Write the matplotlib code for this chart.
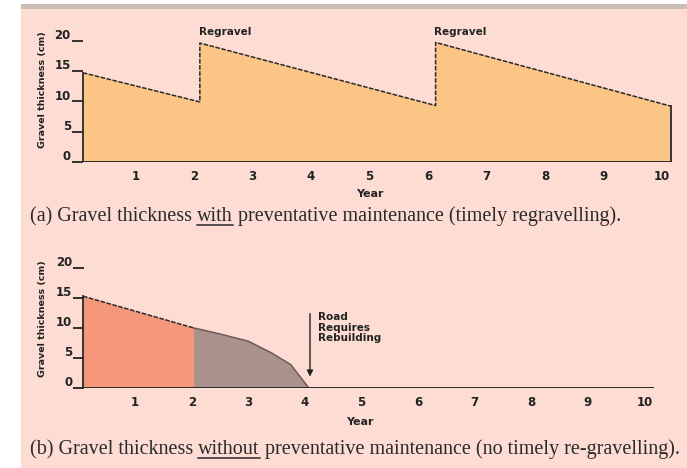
import matplotlib
matplotlib.use("Agg")
import matplotlib.pyplot as plt
from matplotlib.patches import Rectangle
from matplotlib.lines import Line2D

# ---- data ----
years_ticks = [1, 2, 3, 4, 5, 6, 7, 8, 9, 10]
thick_ticks = [0, 5, 10, 15, 20]

# (a) with preventative maintenance
years_a = [0.1, 2.1, 2.1, 6.13, 6.13, 10.15]
thick_a = [14.7, 9.9, 19.6, 9.3, 19.7, 9.2]
regravel_years = [2.1, 6.13]

# (b) without preventative maintenance
years_b_good = [0.08, 2.04]
thick_b_good = [15.3, 10.0]
years_b_bad = [2.04, 2.5, 3.0, 3.4, 3.75, 4.07]
thick_b_bad = [10.0, 9.0, 7.8, 5.9, 3.9, 0.0]
rebuild_year = 4.09

caption_a = ["(a) Gravel thickness ", "with", " preventative maintenance (timely regravelling)."]
caption_b = ["(b) Gravel thickness ", "without", " preventative maintenance (no timely re-gravelling)."]

W, H = 687, 468
fig = plt.figure(figsize=(W / 100, H / 100), dpi=100)
fig.patch.set_facecolor("white")

# background panel
fig.patches.append(Rectangle((21 / W, 0), 1 - 21 / W, (H - 9) / H, transform=fig.transFigure,
                             facecolor="#fddcd3", edgecolor="none", zorder=-10))
fig.patches.append(Rectangle((21 / W, (H - 9) / H), 1 - 21 / W, 5 / H, transform=fig.transFigure,
                             facecolor="#cbbcb6", edgecolor="none", zorder=-10))

tick_font = ["DejaVu Sans"]
serif = ["Liberation Serif", "DejaVu Serif"]
ink = "#222222"


def make_axes(x0, slope, y0, unit, xmax):
    # x0: pixel for year 0, slope: px per year; y0: pixel for 0 cm, unit: px per cm
    left = x0 / W
    width = slope * xmax / W
    bottom = (H - y0) / H
    height = unit * 21 / H
    ax = fig.add_axes([left, bottom, width, height])
    ax.set_xlim(0, xmax)
    ax.set_ylim(0, 21)
    ax.patch.set_alpha(0)
    for s in ax.spines.values():
        s.set_visible(False)
    ax.set_xticks(years_ticks)
    ax.set_xticklabels([str(v) for v in years_ticks], fontfamily=tick_font, fontsize=8.5,
                       fontweight="bold", color=ink)
    ax.tick_params(axis="x", length=0, pad=6)
    ax.set_yticks([])
    # y ticks drawn as short dashes left of the plot start, labels sitting on them
    for v in thick_ticks:
        ax.plot([0.1 - 11 / slope, 0.1], [v, v], color=ink, lw=1.3, clip_on=False,
                solid_capstyle="butt")
        ax.text(0.1 - 12 / slope, v - 0.2, str(v), fontfamily=tick_font, fontsize=8.5,
                fontweight="bold", ha="right", va="bottom", color=ink)
    return ax


# ---- panel (a) ----
axa = make_axes(77, 58.5, 162, 6.07, 10.35)
axa.fill_between(years_a, thick_a, 0, facecolor="#fbc585", edgecolor="none")
axa.plot(years_a, thick_a, color="#2a2a2a", lw=1.1, ls=(0, (3, 1)))
axa.plot([years_a[0], years_a[0]], [0, thick_a[0]], color="#2a2a2a", lw=1.3)
axa.plot([years_a[-1], years_a[-1]], [0, thick_a[-1]], color="#2a2a2a", lw=1.3)
axa.plot([years_a[0], years_a[-1]], [0, 0], color="#2a2a2a", lw=1.4)
for yr in regravel_years:
    axa.text(yr - 0.02, 20.6, "Regravel", fontfamily=tick_font, fontsize=7.5,
             fontweight="bold", ha="left", va="bottom", color=ink)
axa.text(5.0, -5.2, "Year", fontfamily=tick_font, fontsize=8, fontweight="bold",
         ha="center", va="center", color=ink)
fig.text(42 / W, (H - 90) / H, "Gravel thickness (cm)", rotation=90, fontfamily=tick_font,
         fontsize=6.8, fontweight="bold", ha="center", va="center", color=ink)

# ---- panel (b) ----
axb = make_axes(78.5, 56.6, 388, 6.0, 10.35)
axb.fill_between(years_b_good, thick_b_good, 0, facecolor="#f4977a", edgecolor="none")
axb.fill_between(years_b_bad, thick_b_bad, 0, facecolor="#a8928b", edgecolor="none")
axb.plot(years_b_good, thick_b_good, color="#2a2a2a", lw=1.1, ls=(0, (3, 1)))
axb.plot(years_b_bad, thick_b_bad, color="#6d5a55", lw=1.1)
axb.plot([years_b_good[0], years_b_good[0]], [0, thick_b_good[0]], color="#2a2a2a", lw=1.3)
axb.plot([years_b_good[0], 10.15], [0, 0], color="#2a2a2a", lw=1.4)
axb.annotate("", xy=(rebuild_year, 1.9), xytext=(rebuild_year, 12.4),
             arrowprops=dict(arrowstyle="-|>", color=ink, lw=1.0,
                             mutation_scale=9, shrinkA=0, shrinkB=0))
axb.text(rebuild_year + 0.15, 12.6, "Road\nRequires\nRebuilding", fontfamily=tick_font,
         fontsize=7.5, fontweight="bold", ha="left", va="top", linespacing=1.05, color=ink)
axb.text(4.97, -5.6, "Year", fontfamily=tick_font, fontsize=8, fontweight="bold",
         ha="center", va="center", color=ink)
fig.text(42 / W, (H - 319) / H, "Gravel thickness (cm)", rotation=90, fontfamily=tick_font,
         fontsize=6.8, fontweight="bold", ha="center", va="center", color=ink)

# ---- captions with underlined word ----
fig.canvas.draw()
renderer = fig.canvas.get_renderer()


def caption(parts, x_px, y_px):
    x = x_px / W
    y = (H - y_px) / H
    for i, p in enumerate(parts):
        t = fig.text(x, y, p, fontfamily=serif, fontsize=14.5, ha="left", va="baseline",
                     color="#2a2a2a")
        bb = t.get_window_extent(renderer)
        if i == 1:
            ly = y - 4 / H
            fig.lines.append(Line2D([bb.x0 / W, bb.x1 / W], [ly, ly], transform=fig.transFigure,
                                    color="#2a2a2a", lw=1.1))
        x = bb.x1 / W


caption(caption_a, 30, 221)
caption(caption_b, 30, 454)

fig.savefig("out.png", dpi=100, facecolor=fig.get_facecolor())
